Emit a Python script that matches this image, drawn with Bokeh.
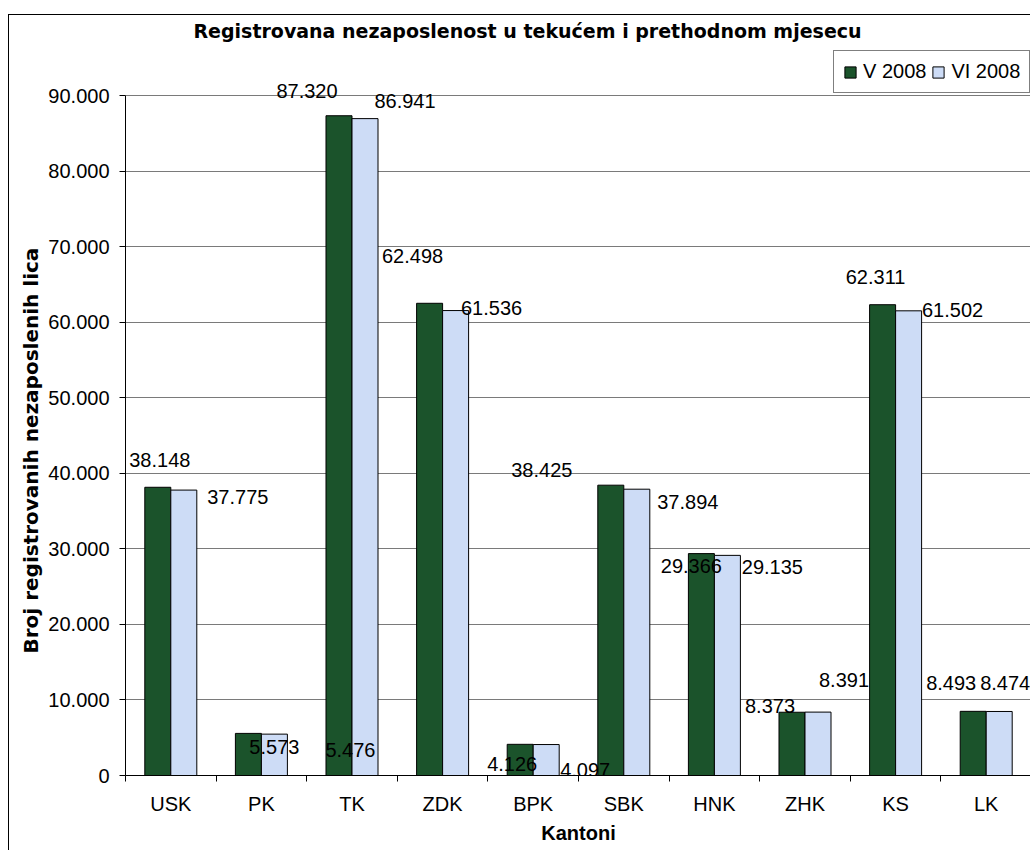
from bokeh.plotting import figure
from bokeh.models import (ColumnDataSource, FixedTicker, LabelSet, Label, Legend,
                          LegendItem, Range1d, Title)
from bokeh.core.properties import value
from bokeh.embed import file_html
from bokeh.resources import INLINE

# ---------------- data ----------------
cantons = ["USK", "PK", "TK", "ZDK", "BPK", "SBK", "HNK", "ZHK", "KS", "LK"]
v_2008 = [38148, 5573, 87320, 62498, 4126, 38425, 29366, 8373, 62311, 8493]
vi_2008 = [37775, 5476, 86941, 61536, 4097, 37894, 29135, 8391, 61502, 8474]
series_names = ["V 2008", "VI 2008"]
y_ticks = [0, 10000, 20000, 30000, 40000, 50000, 60000, 70000, 80000, 90000]
y_tick_labels = ["0", "10.000", "20.000", "30.000", "40.000", "50.000",
                 "60.000", "70.000", "80.000", "90.000"]
title_text = "Registrovana nezaposlenost u tekućem i prethodnom mjesecu"
x_title = "Kantoni"
y_title = "Broj registrovanih nezaposlenih lica"

# ---------------- layout tweaks (label placement, pixels) ----------------
v_dx = [2, 26, -32, -17, -8, -69, -10, -22, -7, -22]
v_dy = [27, -14, 25, 47, -20, 15, -12, 6, 28, 28]
vi_dx = [54, 76, 40, 36, 39, 51, 45, 26, 44, 6]
vi_dy = [-7, -16, 18, 3, -25, -13, -12, 32, 1, 28]

FONT = "Liberation Sans"
WIDE = "DejaVu Sans"
DARK = "#1b532b"
LIGHT = "#cddcf6"
BW = 0.287
AXIS_MAX = 90000
# plot frame is 760 px tall; the 0..90000 axis occupies its lower 680 px,
# the rest holds the title and legend (drawn inside the frame so they are not clipped)
Y_END = AXIS_MAX * 760 / 680

def fmt(v):
    return f"{v:,}".replace(",", ".")

centers = [i + 0.5 for i in range(len(cantons))]
src_v = ColumnDataSource(dict(x=[c - BW / 2 for c in centers], top=v_2008,
                              lab=[fmt(v) for v in v_2008], dx=v_dx, dy=v_dy))
src_vi = ColumnDataSource(dict(x=[c + BW / 2 for c in centers], top=vi_2008,
                               lab=[fmt(v) for v in vi_2008], dx=vi_dx, dy=vi_dy))

p = figure(width=1022, height=836, x_range=Range1d(0, len(cantons)),
           y_range=Range1d(0, Y_END), output_backend="svg", toolbar_location=None,
           min_border_left=116, min_border_right=0, min_border_top=0,
           min_border_bottom=76)
p.styles = {"margin-top": "14px", "margin-left": "8px",
            "border-left": "1px solid black", "border-top": "1px solid black"}
p.outline_line_color = None
p.background_fill_color = "white"
p.border_fill_color = "white"

r1 = p.vbar(x="x", top="top", width=BW, source=src_v, fill_color=DARK,
            line_color="black", line_width=1)
r2 = p.vbar(x="x", top="top", width=BW, source=src_vi, fill_color=LIGHT,
            line_color="black", line_width=1)

# grid
p.xgrid.visible = False
p.ygrid.ticker = FixedTicker(ticks=y_ticks)
p.ygrid.grid_line_color = "#7a7a7a"
p.ygrid.grid_line_width = 1

# x axis
xa = p.xaxis[0]
xa.ticker = FixedTicker(ticks=centers, minor_ticks=list(range(len(cantons) + 1)))
xa.major_label_overrides = {c: n for c, n in zip(centers, cantons)}
xa.major_tick_in = 0
xa.major_tick_out = 0
xa.minor_tick_in = 0
xa.minor_tick_out = 6
xa.minor_tick_line_color = "black"
xa.axis_line_color = "black"
xa.major_label_text_font = FONT
xa.major_label_text_font_size = "20px"
xa.major_label_text_color = "black"
xa.major_label_standoff = 11
xa.axis_label = x_title
xa.axis_label_text_font = FONT
xa.axis_label_text_font_size = "20px"
xa.axis_label_text_font_style = "bold"
xa.axis_label_text_color = "black"
xa.axis_label_standoff = 4

# y axis
ya = p.yaxis[0]
ya.ticker = FixedTicker(ticks=y_ticks)
ya.bounds = (0, AXIS_MAX)
ya.major_label_overrides = {t: l for t, l in zip(y_ticks, y_tick_labels)}
ya.major_tick_in = 0
ya.major_tick_out = 6
ya.minor_tick_in = 0
ya.minor_tick_out = 0
ya.major_tick_line_color = "black"
ya.axis_line_color = "black"
ya.major_label_text_font = FONT
ya.major_label_text_font_size = "20px"
ya.major_label_text_color = "black"
ya.major_label_standoff = 10

# y axis title, placed along the 0..90000 part of the frame
p.add_layout(Title(text=y_title, align="left", offset=122, standoff=6,
                   text_font=WIDE, text_font_size="20px", text_font_style="bold",
                   text_color="black"), "left")

# data labels
for src in (src_v, src_vi):
    p.add_layout(LabelSet(x="x", y="top", text="lab", source=src,
                          x_offset="dx", y_offset="dy",
                          text_align="center", text_baseline="middle",
                          text_font=value(FONT), text_font_size=value("20px"),
                          text_color="black"))

# chart title (centred on the chart area, not the plot area)
p.add_layout(Label(x=402, y=745, x_units="screen", y_units="screen",
                   text=title_text, text_align="center", text_baseline="middle",
                   text_font=WIDE, text_font_size="19px", text_font_style="bold",
                   text_color="black"))

# legend
legend = Legend(items=[LegendItem(label=series_names[0], renderers=[r1]),
                       LegendItem(label=series_names[1], renderers=[r2])],
                location=(708, 682), orientation="horizontal",
                border_line_color="black", border_line_width=1,
                background_fill_color="white", background_fill_alpha=1,
                label_text_font=FONT, label_text_font_size="20px",
                label_text_color="black",
                glyph_width=14, glyph_height=14, padding=9, spacing=5,
                label_standoff=6, margin=0)
p.add_layout(legend)

open("out.html", "w").write(file_html(p, INLINE))
